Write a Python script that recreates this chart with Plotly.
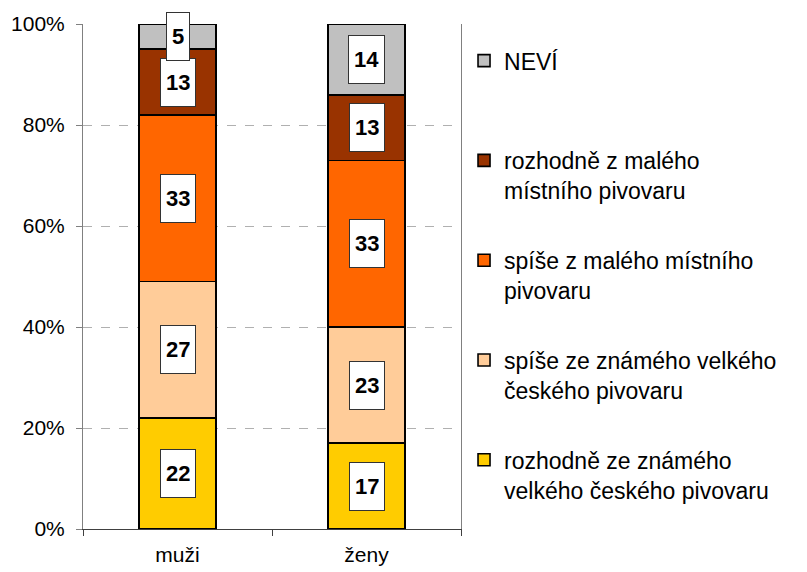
import plotly.graph_objects as go

categories = ["muži", "ženy"]
series_names = [
    "rozhodně ze známého<br>velkého českého pivovaru",
    "spíše ze známého velkého<br>českého pivovaru",
    "spíše z malého místního<br>pivovaru",
    "rozhodně z malého<br>místního pivovaru",
    "NEVÍ<br>\u00a0",
]
rozhodne_znamy = [22, 17]
spise_znamy = [27, 23]
spise_maly = [33, 33]
rozhodne_maly = [13, 13]
nevi = [5, 14]
series_values = [rozhodne_znamy, spise_znamy, spise_maly, rozhodne_maly, nevi]
colors = ["#FFCC00", "#FFCC99", "#FF6600", "#993300", "#C0C0C0"]
y_tick_vals = [0, 20, 40, 60, 80, 100]
y_tick_text = ["0%", "20%", "40%", "60%", "80%", "100%"]

FONT = "Liberation Sans, Arial, sans-serif"

fig = go.Figure()
base = [0] * len(categories)
annotations = []
n = len(series_names)
for i, (name, vals, col) in enumerate(zip(series_names, series_values, colors)):
    fig.add_trace(go.Bar(
        x=categories, y=vals, name=name, legendgroup=f"g{i}",
        legendrank=n - i,
        marker=dict(color=col, line=dict(color="black", width=1.6)),
        width=0.41,
    ))
    for j, v in enumerate(vals):
        annotations.append(dict(
            x=categories[j], y=base[j] + v / 2, xref="x", yref="y",
            text=str(v), showarrow=False,
            font=dict(family=FONT, size=22, color="black", weight="bold"),
            bgcolor="white", bordercolor="#333333", borderwidth=1,
            borderpad=5, height=37,
        ))
        base[j] += v

# page body has an 8px margin, so the figure is sized to fit the window
fig.update_layout(
    barmode="stack",
    width=799, height=564,
    margin=dict(l=75, r=346, t=16, b=43, autoexpand=False),
    plot_bgcolor="white", paper_bgcolor="white",
    font=dict(family=FONT, size=21, color="black"),
    annotations=annotations,
    showlegend=True,
    legend=dict(
        x=1.008, xanchor="left", y=0.970, yanchor="top",
        traceorder="grouped", tracegroupgap=37,
        valign="top", font=dict(family=FONT, size=23, color="black"),
        bgcolor="rgba(0,0,0,0)",
    ),
)
fig.update_xaxes(
    showline=True, linecolor="#404040", linewidth=1,
    ticks="outside", tickson="boundaries", ticklen=6, tickcolor="#404040",
    showgrid=False, tickfont=dict(size=21), automargin=False,
    ticklabelstandoff=7,
)
fig.update_yaxes(
    range=[0, 100], tickvals=y_tick_vals, ticktext=y_tick_text,
    showline=True, linecolor="#808080", linewidth=1, mirror=True,
    ticks="outside", ticklen=6, tickcolor="#808080",
    showgrid=True, gridcolor="#B0B0B0", griddash="dash", gridwidth=1,
    zeroline=False, tickfont=dict(size=21), automargin=False,
    ticklabelstandoff=7,
)
fig.write_html("out.html")
